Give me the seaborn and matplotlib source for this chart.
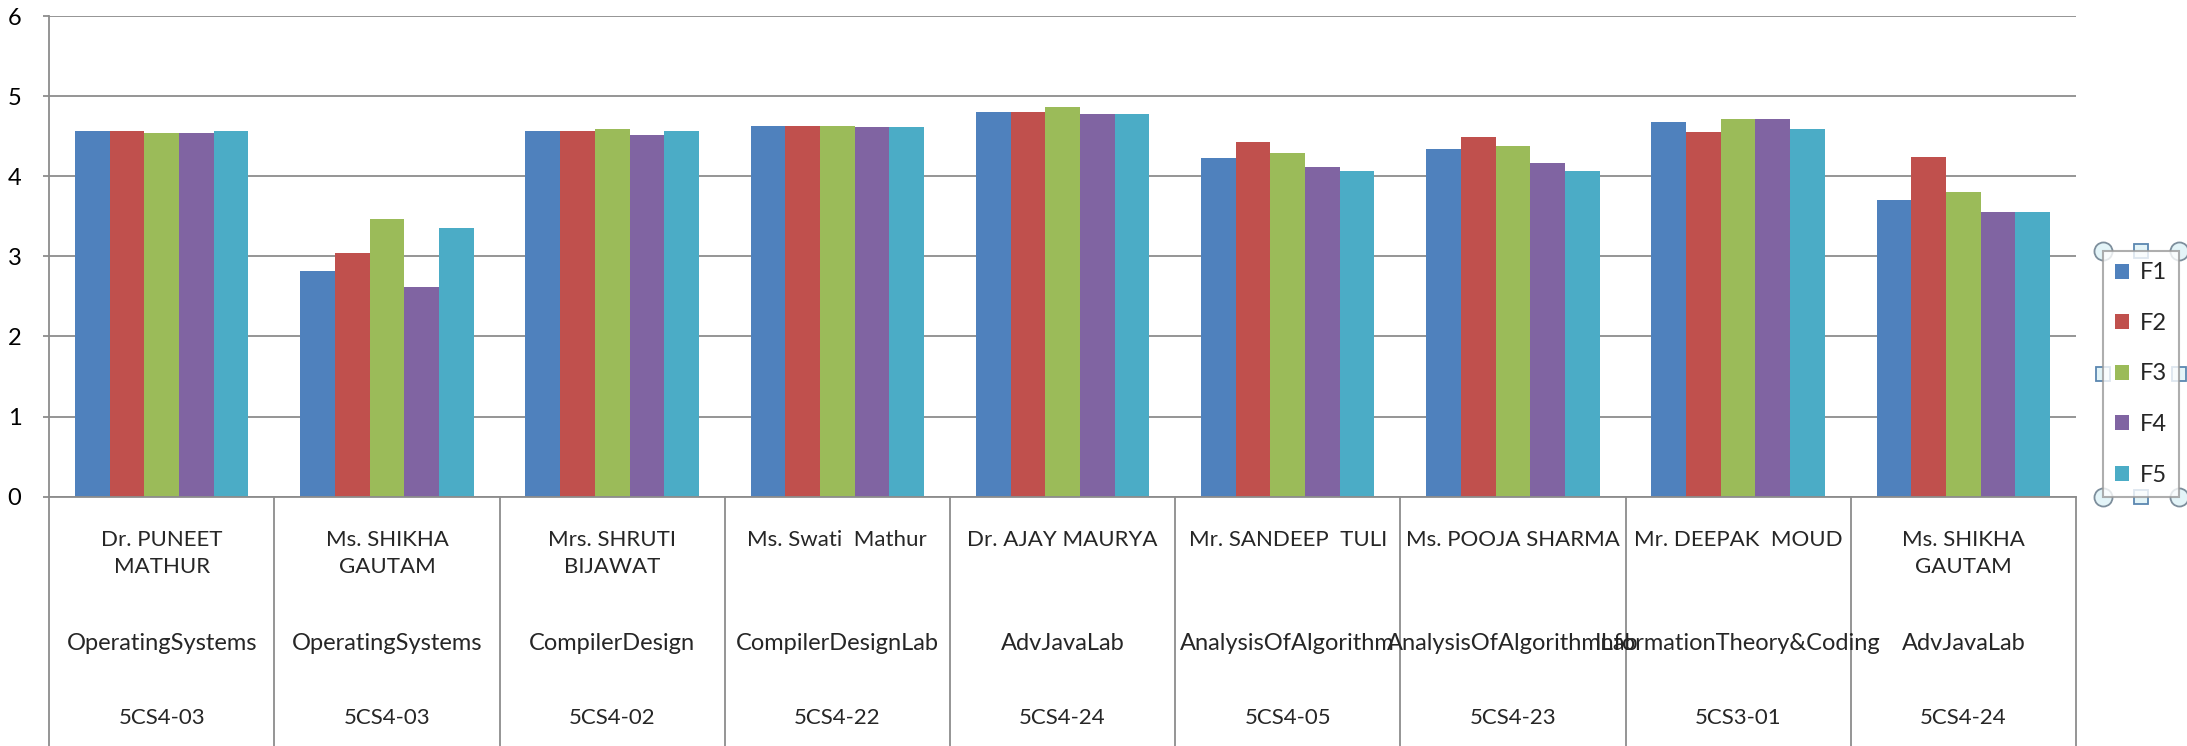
import pandas as pd
import seaborn as sns
import matplotlib.pyplot as plt
from matplotlib.lines import Line2D
from matplotlib.transforms import blended_transform_factory

# Chart data
names = ['Dr. PUNEET\nMATHUR', 'Ms. SHIKHA\nGAUTAM', 'Mrs. SHRUTI\nBIJAWAT', 'Ms. Swati  Mathur',
         'Dr. AJAY MAURYA', 'Mr. SANDEEP  TULI', 'Ms. POOJA SHARMA', 'Mr. DEEPAK  MOUD',
         'Ms. SHIKHA\nGAUTAM']
subjects = ['OperatingSystems', 'OperatingSystems', 'CompilerDesign', 'CompilerDesignLab',
            'AdvJavaLab', 'AnalysisOfAlgorithm', 'AnalysisOfAlgorithmLab',
            'InformationTheory&Coding', 'AdvJavaLab']
codes = ['5CS4-03', '5CS4-03', '5CS4-02', '5CS4-22', '5CS4-24', '5CS4-05', '5CS4-23',
         '5CS3-01', '5CS4-24']
series = ['F1', 'F2', 'F3', 'F4', 'F5']
f1 = [4.56, 2.82, 4.56, 4.63, 4.80, 4.23, 4.34, 4.68, 3.71]
f2 = [4.56, 3.04, 4.56, 4.63, 4.80, 4.43, 4.49, 4.55, 4.24]
f3 = [4.54, 3.47, 4.59, 4.63, 4.86, 4.29, 4.38, 4.71, 3.81]
f4 = [4.54, 2.62, 4.51, 4.61, 4.78, 4.11, 4.16, 4.71, 3.56]
f5 = [4.56, 3.36, 4.56, 4.61, 4.78, 4.06, 4.06, 4.59, 3.56]
colors = ['#4F81BD', '#C0504D', '#9BBB59', '#8064A2', '#4BACC6']

# Long table for seaborn
groups = [f'g{i}' for i in range(len(names))]
rows = []
for s, vals in zip(series, [f1, f2, f3, f4, f5]):
    for g, v in zip(groups, vals):
        rows.append({'group': g, 'series': s, 'value': v})
df = pd.DataFrame(rows)

sns.set_style('white')
plt.rcParams['font.family'] = ['Lato', 'DejaVu Sans']
grid_color = '#8c8c8c'

fig = plt.figure(figsize=(21.87, 7.46), dpi=100)
ax = fig.add_axes([0.0225, 0.3342, 0.9267, 0.6442])

sns.barplot(data=df, x='group', y='value', hue='series', order=groups, hue_order=series,
            palette=colors, saturation=1, width=0.77, linewidth=0, ax=ax)

ax.set_ylim(0, 6)
ax.set_xlim(-0.5, len(names) - 0.5)
ax.set_yticks(range(7))
ax.yaxis.grid(True, color=grid_color, linewidth=1.3)
ax.set_axisbelow(True)
ax.set_xlabel('')
ax.set_ylabel('')
ax.set_xticks([])
for side in ['top', 'right']:
    ax.spines[side].set_visible(False)
for side in ['left', 'bottom']:
    ax.spines[side].set_color(grid_color)
    ax.spines[side].set_linewidth(1.3)
ax.tick_params(axis='y', length=4, width=1.3, color=grid_color, pad=16, labelsize=17, labelcolor='black')
ax.yaxis.set_ticks_position('left')

# Multi-level category labels under the axis
trans = blended_transform_factory(ax.transData, ax.transAxes)
for i in range(len(names) + 1):
    ax.plot([i - 0.5, i - 0.5], [0, -0.53], transform=trans, color=grid_color,
            linewidth=1.3, clip_on=False)
for i, (n, s, c) in enumerate(zip(names, subjects, codes)):
    ax.text(i, -0.07, n, transform=trans, ha='center', va='top', fontsize=16,
            linespacing=1.42)
    ax.text(i, -0.306, s, transform=trans, ha='center', va='center', fontsize=17)
    ax.text(i, -0.460, c, transform=trans, ha='center', va='center', fontsize=16)

# Legend
handles, labels = ax.get_legend_handles_labels()
ax.get_legend().remove()
leg = fig.legend(handles, labels, loc='center', bbox_to_anchor=(2141 / 2187, 1 - 374 / 746),
                 frameon=True, fancybox=False, edgecolor='#9a9a9a', fontsize=17,
                 handlelength=0.6, handleheight=0.6, handletextpad=0.45, labelspacing=1.25,
                 borderpad=0.5, borderaxespad=0)
leg.get_frame().set_linewidth(1.5)

# Selection handles around the legend box
fig.canvas.draw()
bb = leg.get_frame().get_window_extent().transformed(fig.transFigure.inverted())
x0, x1, y0, y1 = bb.x0, bb.x1, bb.y0, bb.y1
xm, ym = (x0 + x1) / 2, (y0 + y1) / 2
for (hx, hy) in [(x0, y0), (x1, y0), (x0, y1), (x1, y1)]:
    fig.add_artist(Line2D([hx], [hy], marker='o', markersize=13, markerfacecolor='#e3f4f8',
                          markeredgecolor='#7d8e9c', markeredgewidth=1.3, transform=fig.transFigure))
for (hx, hy) in [(xm, y0), (xm, y1), (x0, ym), (x1, ym)]:
    fig.add_artist(Line2D([hx], [hy], marker='s', markersize=10, markerfacecolor='#e3f4f8',
                          markeredgecolor='#5b87b0', markeredgewidth=1.3, transform=fig.transFigure))

plt.savefig('out.png', dpi=100)
